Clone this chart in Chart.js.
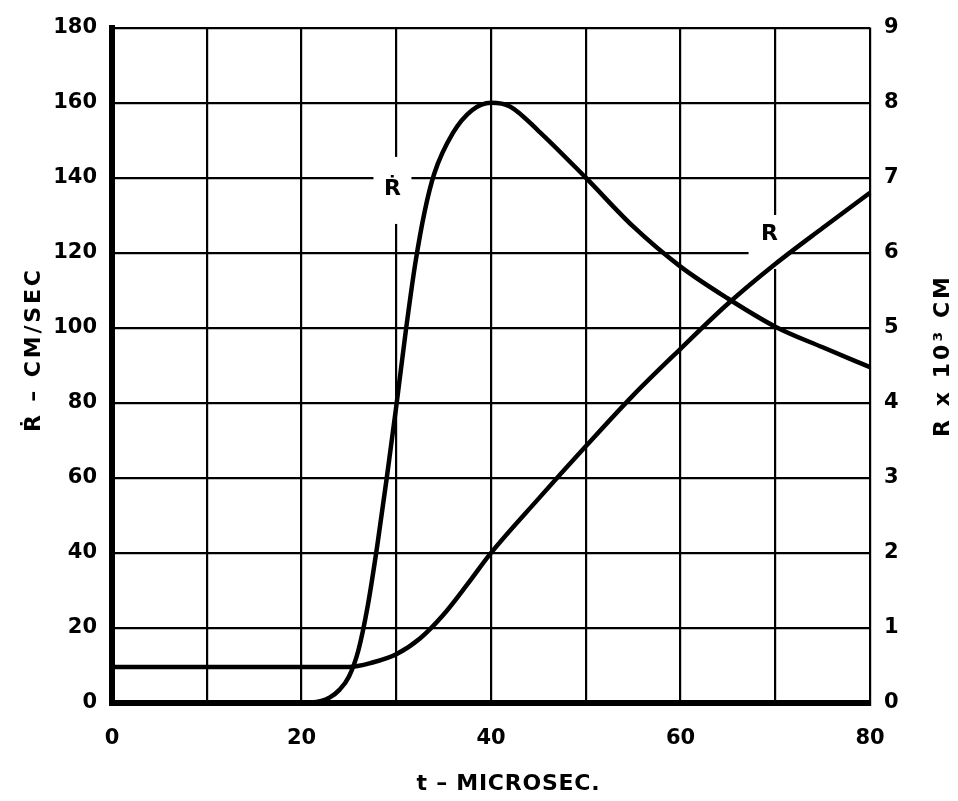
<!DOCTYPE html>
<html>
<head>
<meta charset="utf-8">
<script src="https://cdn.jsdelivr.net/npm/chart.js@4/dist/chart.umd.min.js"></script>
<style>
  html, body { margin: 0; padding: 0; background: #fff; }
  #wrap { width: 958px; height: 801px; }
</style>
</head>
<body>
<div id="wrap"><canvas id="chart" width="958" height="801"></canvas></div>
<script>
'use strict';

// time samples (microsec) and values
const rdotTimes  = [0, 5, 10, 15, 20, 22, 23, 24, 25, 26, 27, 28, 29, 30, 31, 32, 33, 34, 36, 38, 40, 42, 45, 50, 55, 60, 65, 70, 75, 80];
const rdotValues = [0, 0, 0, 0, 0, 0.5, 1.5, 3.5, 7, 14, 26, 42, 60, 79, 99, 117, 131, 141, 152, 158, 160, 159, 152.5, 140, 127, 116.3, 107.8, 100.3, 94.8, 89.5];

const rTimes  = [0, 10, 20, 25, 27.5, 30, 32.5, 35, 37.5, 40, 45, 50, 55, 60, 65, 70, 75, 80];
const rValues = [0.48, 0.48, 0.48, 0.48, 0.54, 0.65, 0.86, 1.18, 1.58, 2.0, 2.72, 3.42, 4.1, 4.72, 5.32, 5.85, 6.33, 6.8];

// ticks
const xGridTicks = [0, 10, 20, 30, 40, 50, 60, 70, 80];
const xTicks = [0, 20, 40, 60, 80];
const leftTicks = [0, 20, 40, 60, 80, 100, 120, 140, 160, 180];
const rightTicks = [0, 1, 2, 3, 4, 5, 6, 7, 8, 9];

const FONT = 'DejaVu Sans';

const toPts = (xs, ys) => xs.map((x, i) => ({ x: x, y: ys[i] }));

// curve labels on a white patch that breaks the grid
const curveLabels = [
  { text: '\u1E58', t: 29.6, v: 137, w: 38, up: 32, h: 67 },
  { text: 'R', t: 69.4, v: 125, w: 42, up: 19, h: 54 },
];

// text spread out a little to a given width
function spreadText(ctx, text, cx, cy, width) {
  ctx.letterSpacing = '0px';
  const base = ctx.measureText(text).width;
  const gap = Math.max(0, (width - base) / (text.length - 1));
  ctx.letterSpacing = gap + 'px';
  ctx.textAlign = 'left';
  ctx.fillText(text, cx - width / 2, cy);
  ctx.letterSpacing = '0px';
}

const labelPlugin = {
  id: 'curveLabels',
  beforeDatasetsDraw(chart) {
    const { ctx } = chart;
    const xs = chart.scales.x, ys = chart.scales.y;
    ctx.save();
    curveLabels.forEach((l) => {
      const px = xs.getPixelForValue(l.t);
      const py = ys.getPixelForValue(l.v);
      ctx.fillStyle = '#fff';
      ctx.fillRect(px - l.w / 2, py - l.up, l.w, l.h);
      ctx.fillStyle = '#000';
      ctx.font = `bold 22px "${FONT}"`;
      ctx.textAlign = 'center';
      ctx.textBaseline = 'middle';
      ctx.fillText(l.text, px, py);
    });
    ctx.restore();
  },
  afterDraw(chart) {
    const { ctx } = chart;
    ctx.save();
    ctx.fillStyle = '#000';
    ctx.textBaseline = 'middle';
    ctx.font = `bold 22px "${FONT}"`;
    // bottom title
    spreadText(ctx, 't \u2013 MICROSEC.', 508, 784, 183);
    // left title
    ctx.save();
    ctx.translate(34, 351);
    ctx.rotate(-Math.PI / 2);
    spreadText(ctx, '\u1E58 \u2013 CM/SEC', 0, 0, 162);
    ctx.restore();
    // right title
    ctx.save();
    ctx.translate(943, 357);
    ctx.rotate(-Math.PI / 2);
    spreadText(ctx, 'R x 10\u00B3 CM', 0, 0, 160);
    ctx.restore();
    ctx.restore();
  },
};

const tickFont = { family: FONT, size: 21, weight: 'bold' };

new Chart(document.getElementById('chart').getContext('2d'), {
  type: 'line',
  data: {
    datasets: [
      {
        label: 'Rdot',
        data: toPts(rdotTimes, rdotValues),
        yAxisID: 'y',
        borderColor: '#000',
        borderWidth: 4.5,
        pointRadius: 0,
        cubicInterpolationMode: 'monotone',
        clip: false,
      },
      {
        label: 'R',
        data: toPts(rTimes, rValues),
        yAxisID: 'y2',
        borderColor: '#000',
        borderWidth: 4.5,
        pointRadius: 0,
        cubicInterpolationMode: 'monotone',
        clip: false,
      },
    ],
  },
  options: {
    responsive: false,
    animation: false,
    layout: { padding: { top: 25, left: 0, right: 0, bottom: 0 } },
    plugins: {
      legend: { display: false },
      tooltip: { enabled: false },
    },
    scales: {
      x: {
        type: 'linear',
        min: 0,
        max: 80,
        afterFit: (s) => { s.height = 98; },
        afterBuildTicks: (s) => { s.ticks = xGridTicks.map((v) => ({ value: v })); },
        grid: { color: '#000', lineWidth: 2.2, drawTicks: false },
        border: { color: '#000', width: 6 },
        ticks: {
          autoSkip: false,
          maxRotation: 0,
          padding: 23,
          color: '#000',
          font: tickFont,
          callback: (v) => (xTicks.includes(v) ? String(v) : ''),
        },
      },
      y: {
        position: 'left',
        min: 0,
        max: 180,
        afterFit: (s) => { s.width = 112; },
        afterBuildTicks: (s) => { s.ticks = leftTicks.map((v) => ({ value: v })); },
        grid: { color: '#000', lineWidth: 2.2, drawTicks: false },
        border: { color: '#000', width: 6 },
        ticks: { padding: 15, color: '#000', font: tickFont },
      },
      y2: {
        position: 'right',
        min: 0,
        max: 9,
        afterFit: (s) => { s.width = 88; },
        afterBuildTicks: (s) => { s.ticks = rightTicks.map((v) => ({ value: v })); },
        grid: { display: false, drawTicks: false },
        border: { display: false },
        ticks: { padding: 14, color: '#000', font: tickFont },
      },
    },
  },
  plugins: [labelPlugin],
});
</script>
</body>
</html>
